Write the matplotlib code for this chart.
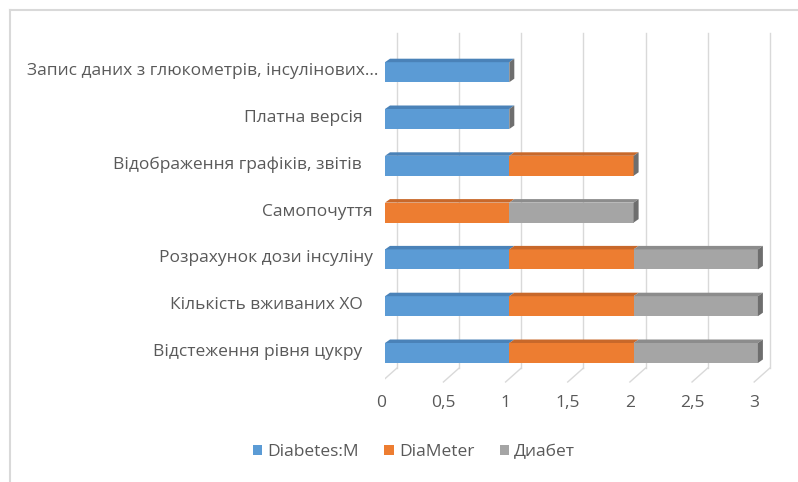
import matplotlib
matplotlib.use("Agg")
import matplotlib.pyplot as plt
from matplotlib.patches import Polygon
from matplotlib.lines import Line2D
from matplotlib.transforms import blended_transform_factory, offset_copy
import numpy as np

plt.rcParams['font.family'] = ['Open Sans', 'DejaVu Sans']

categories = [
    "Відстеження рівня цукру",
    "Кількість вживаних ХО",
    "Розрахунок дози інсуліну",
    "Самопочуття",
    "Відображення графіків, звітів",
    "Платна версія",
    "Запис даних з глюкометрів, інсулінових...",
]
series_names = ["Diabetes:M", "DiaMeter", "Диабет"]
diabetes_m = [1, 1, 1, 0, 1, 1, 1]
diameter = [1, 1, 1, 1, 1, 0, 0]
diabet = [1, 1, 1, 1, 0, 0, 0]
xticks = [0, 0.5, 1, 1.5, 2, 2.5, 3]
xtick_labels = ["0", "0,5", "1", "1,5", "2", "2,5", "3"]

front_colors = ["#5B9BD5", "#ED7D31", "#A5A5A5"]
top_colors = ["#4A82B8", "#C8682A", "#8C8C8C"]
side_color = "#6E6E6E"
text_color = "#595959"
grid_color = "#D9D9D9"

W, H = 798, 482
fig = plt.figure(figsize=(W / 100, H / 100), dpi=100)

# axes geometry in pixels
px0, px_unit = 385, 124.3
ax_top_px, ax_bot_px = 30, 385
row0_px, row_px = 353, 46.8
xmax = 3.3
ax = fig.add_axes([px0 / W, (H - ax_bot_px) / H, xmax * px_unit / W,
                   (ax_bot_px - ax_top_px) / H])
ax.set_xlim(0, xmax)
ax.set_ylim((row0_px - ax_bot_px) / row_px, (row0_px - ax_top_px) / row_px)
ax.axis("off")

def py(p):
    return (row0_px - p) / row_px

# back wall gridlines and floor
gdx = 12 / px_unit
for v in xticks:
    ax.add_line(Line2D([v + gdx, v + gdx], [py(33), py(368)], color=grid_color,
                       lw=1.0, zorder=1))
    ax.add_line(Line2D([v + gdx, v - 0.03], [py(368), py(382)], color=grid_color,
                       lw=1.0, zorder=1))

# bars
y = np.arange(len(categories))
h = 20 / row_px
dx = 5 / px_unit
dy = 3.5 / row_px
data = [diabetes_m, diameter, diabet]
left = np.zeros(len(categories))
for si, vals in enumerate(data):
    vals = np.array(vals, dtype=float)
    ax.barh(y, vals, left=left, height=h, color=front_colors[si],
            label=series_names[si], zorder=3, linewidth=0)
    for i in range(len(categories)):
        if vals[i] > 0:
            l, r = left[i], left[i] + vals[i]
            t = y[i] + h / 2
            ax.add_patch(Polygon([(l, t), (l + dx, t + dy), (r + dx, t + dy), (r, t)],
                                 closed=True, facecolor=top_colors[si],
                                 edgecolor="none", zorder=3))
    left = left + vals
for i in range(len(categories)):
    r = left[i]
    b, t = y[i] - h / 2, y[i] + h / 2
    ax.add_patch(Polygon([(r, b), (r + dx, b + dy), (r + dx, t + dy), (r, t)],
                         closed=True, facecolor=side_color, edgecolor="none",
                         zorder=4))

# category labels
FS = 12.5
label_pad = [23, 22, 12, 12, 23, 22, 7]
for i, c in enumerate(categories):
    tr = offset_copy(ax.transData, fig=fig, x=-label_pad[i], y=0, units="dots")
    ax.text(0, y[i] + 0.02, c, transform=tr, ha="right", va="center",
            fontsize=FS, color=text_color, clip_on=False)

# x tick labels
bt = blended_transform_factory(ax.transData, fig.transFigure)
for v, s in zip(xticks, xtick_labels):
    ax.text(v - 0.03, 1 - 403 / H, s, transform=bt, ha="center", va="center",
            fontsize=FS, color=text_color)

# legend
leg = fig.legend(loc="center", bbox_to_anchor=(414 / W, 1 - 452 / H), ncol=3,
                 frameon=False, fontsize=FS, handlelength=0.55, handleheight=0.55,
                 handletextpad=0.3, columnspacing=1.45, labelcolor=text_color)

# chart frame
fig.add_artist(Line2D([10 / W, 10 / W], [0, 1 - 10 / H], color=grid_color, lw=1.5,
                      transform=fig.transFigure))
fig.add_artist(Line2D([10 / W, 1], [1 - 10 / H, 1 - 10 / H], color=grid_color, lw=1.5,
                      transform=fig.transFigure))

fig.savefig("out.png", dpi=100, facecolor="white")
